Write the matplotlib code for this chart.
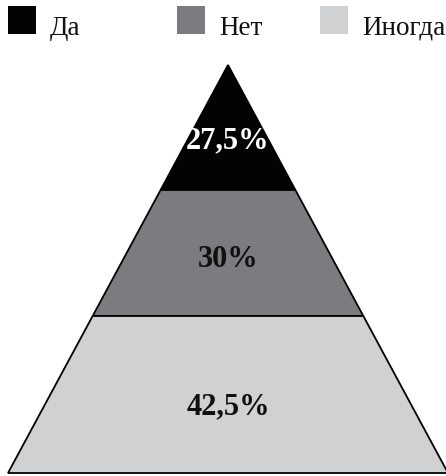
import matplotlib
matplotlib.use("Agg")
import matplotlib.pyplot as plt
from matplotlib.patches import Polygon, Rectangle

# Данные
categories = ["Да", "Нет", "Иногда"]
values = [27.5, 30, 42.5]
labels = ["27,5%", "30%", "42,5%"]
colors = ["#030303", "#7b7c80", "#d0d1d3"]
text_colors = ["white", "#111111", "#111111"]

# Геометрия пирамиды (в пикселях)
apex_x, apex_y = 228, 66
base_y = 474
half_base = 220
bounds = [66, 191, 317, 474]   # границы слоёв по вертикали
label_shift = [12, 6, 11]      # сдвиг подписей вниз от центра слоя

plt.rcParams["font.family"] = ["Liberation Serif", "DejaVu Serif"]

fig = plt.figure(figsize=(4.46, 4.77), dpi=100)
ax = fig.add_axes([0, 0, 1, 1])
ax.set_xlim(0, 446)
ax.set_ylim(477, 0)
ax.axis("off")


def half_width(y):
    return half_base * (y - apex_y) / (base_y - apex_y)


for i in range(len(values)):
    y0, y1 = bounds[i], bounds[i + 1]
    w0, w1 = half_width(y0), half_width(y1)
    pts = [(apex_x - w0, y0), (apex_x + w0, y0),
           (apex_x + w1, y1), (apex_x - w1, y1)]
    ax.add_patch(Polygon(pts, closed=True, facecolor=colors[i],
                         edgecolor="black", linewidth=1.3))
    ax.text(apex_x, (y0 + y1) / 2 + label_shift[i], labels[i],
            ha="center", va="center", fontsize=22,
            fontweight="bold", color=text_colors[i])

# Легенда
leg_x = [8, 177, 320]
for i, cat in enumerate(categories):
    ax.add_patch(Rectangle((leg_x[i], 7), 28, 28, facecolor=colors[i],
                           edgecolor="none"))
    ax.text(leg_x[i] + 42, 35, cat, ha="left", va="baseline",
            fontsize=19.5, color="#111111")

fig.savefig("out.png", dpi=100)
